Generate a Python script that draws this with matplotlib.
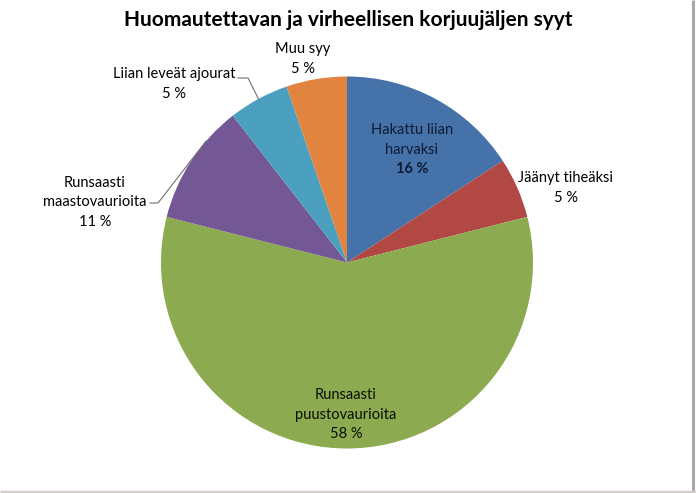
import numpy as np
import matplotlib
matplotlib.use("Agg")
import matplotlib.pyplot as plt

# data: number of cases per reason (19 in total)
reasons = ["Hakattu liian\nharvaksi", "Jäänyt tiheäksi", "Runsaasti\npuustovaurioita",
           "Runsaasti\nmaastovaurioita", "Liian leveät ajourat", "Muu syy"]
counts = [3, 1, 11, 2, 1, 1]
colors = ["#4672AA", "#B24843", "#8CAA4F", "#735895", "#4AA0BE", "#E0843F"]
title = "Huomautettavan ja virheellisen korjuujäljen syyt"

W, H = 696, 493
plt.rcParams['font.family'] = ['Lato', 'DejaVu Sans']

fig = plt.figure(figsize=(W / 100, H / 100), dpi=100)
ax = fig.add_axes([0, 0, 1, 1])

cx, cy, r = 347, H - 262.5, 186
ax.pie(counts, colors=colors, startangle=90, counterclock=False,
       center=(cx, cy), radius=r, wedgeprops=dict(linewidth=0))

# pie resets the limits, so set the pixel frame afterwards
ax.set_xlim(0, W)
ax.set_ylim(0, H)
ax.set_aspect('equal')
ax.axis('off')

total = sum(counts)
pcts = [f"{round(100 * c / total)} %" for c in counts]

# label positions in pixels (x, y of first line)
label_pos = [(412, 130), (566, 178), (346, 395), (95, 183), (174, 74), (303, 49)]
text_cols = ["#0E1A33", "black", "#0A0F05", "black", "black", "black"]
lh = 19.5
for i, (name, pct) in enumerate(zip(reasons, pcts)):
    x, y = label_pos[i]
    lines = name.split("\n")
    lh_i = 20 if i in (4, 5) else lh
    for j, ln in enumerate(lines):
        ax.text(x, H - (y + j * lh_i), ln, ha='center', va='center',
                fontsize=10.5, color=text_cols[i])
    ax.text(x, H - (y + len(lines) * lh_i), pct, ha='center', va='center',
            fontsize=10.5, color=text_cols[i],
            fontweight='bold' if i == 0 else 'normal')

# leader lines to the wedge edges
cum = np.cumsum([0] + counts) / total
def edge_point(k, frac=0.5):
    a = (cum[k] + frac * (cum[k + 1] - cum[k])) * 2 * np.pi
    return cx + r * np.sin(a), cy + r * np.cos(a)

ex, ey = edge_point(4)
ax.plot([238, 248, ex], [H - 78, H - 78, ey], color="#707070", lw=0.8)
ex, ey = edge_point(3, 0.7)
ax.plot([150, 158, ex], [H - 203, H - 203, ey], color="#707070", lw=0.8)

ax.text(348, H - 20, title, ha='center', va='center', fontsize=15,
        fontweight='bold', color="black")

# frame edges at right and bottom
ax.plot([693, 693], [H, H - 491], color="#A8A8A8", lw=2.2, solid_capstyle='butt')
ax.plot([0, W], [H - 491.5, H - 491.5], color="#D2CEC8", lw=2.5, solid_capstyle='butt')

fig.savefig("out.png", dpi=100)
